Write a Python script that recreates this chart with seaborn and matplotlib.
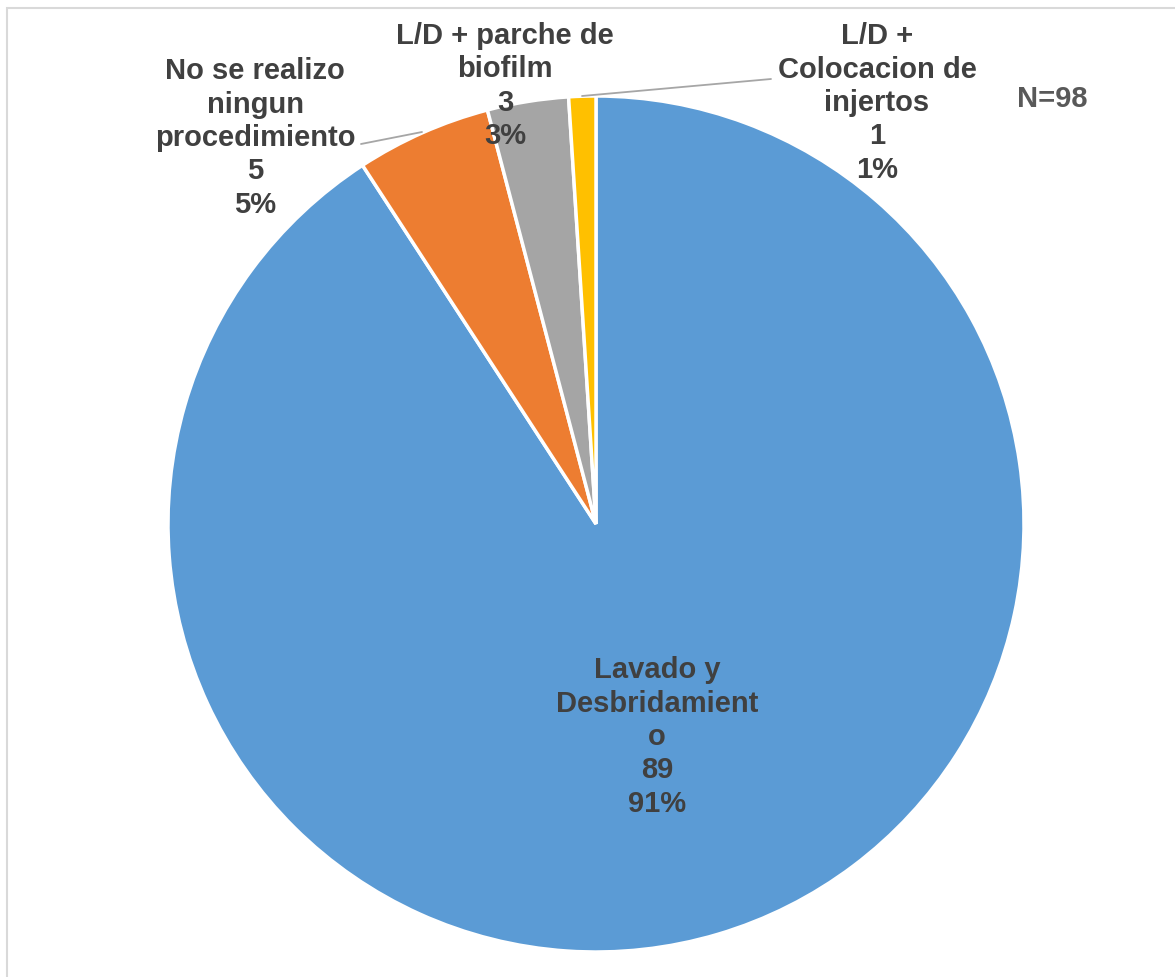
import matplotlib
matplotlib.use("Agg")
import matplotlib.pyplot as plt
from matplotlib.patches import Rectangle
import seaborn as sns

# Procedures performed on the patients (N=98)
categories = [
    "Lavado y\nDesbridamient\no",
    "No se realizo\nningun\nprocedimiento",
    "L/D + parche de\nbiofilm",
    "L/D +\nColocacion de\ninjertos",
]
counts = [89, 5, 3, 1]
colors = ["#5B9BD5", "#ED7D31", "#A5A5A5", "#FFC000"]
total_label = "N=98"

sns.set_theme(style="white")
plt.rcParams["font.family"] = ["Liberation Sans", "DejaVu Sans"]

W, H = 1175, 978
fig = plt.figure(figsize=(W / 100, H / 100), dpi=100)
ax = fig.add_axes([0, 0, 1, 1])


def py(y):
    # screen-style y (from top) to axes y
    return H - y


wedges, _ = ax.pie(
    counts,
    colors=colors,
    startangle=90,
    counterclock=False,
    center=(596, py(525)),
    radius=428,
    frame=True,
    wedgeprops=dict(edgecolor="white", linewidth=2.5),
)
ax.set_xlim(0, W)
ax.set_ylim(0, H)
ax.set_aspect("equal")
ax.axis("off")

total = sum(counts)
label_pos = [(657, 737), (255, 138), (505, 86), (877, 103)]
text_color = "#404040"
for name, n, (x, y) in zip(categories, counts, label_pos):
    pct = round(100 * n / total)
    ax.text(x, py(y), f"{name}\n{n}\n{pct}%", ha="center", va="center",
            fontsize=21, fontweight="bold", color=text_color,
            linespacing=1.24)

# leader lines for the labels placed outside their slices
ax.plot([361, 422], [py(145), py(133)], color="#A6A6A6", lw=1.3)
ax.plot([582, 771], [py(97), py(80)], color="#A6A6A6", lw=1.3)

ax.text(1052, py(99), total_label, ha="center", va="center", fontsize=21,
        fontweight="bold", color="#595959")

# chart-area border
ax.add_patch(Rectangle((7, -50), 1400, py(9) + 50, fill=False,
                       edgecolor="#D9D9D9", lw=1.5, clip_on=False))

fig.savefig("out.png", dpi=100)
